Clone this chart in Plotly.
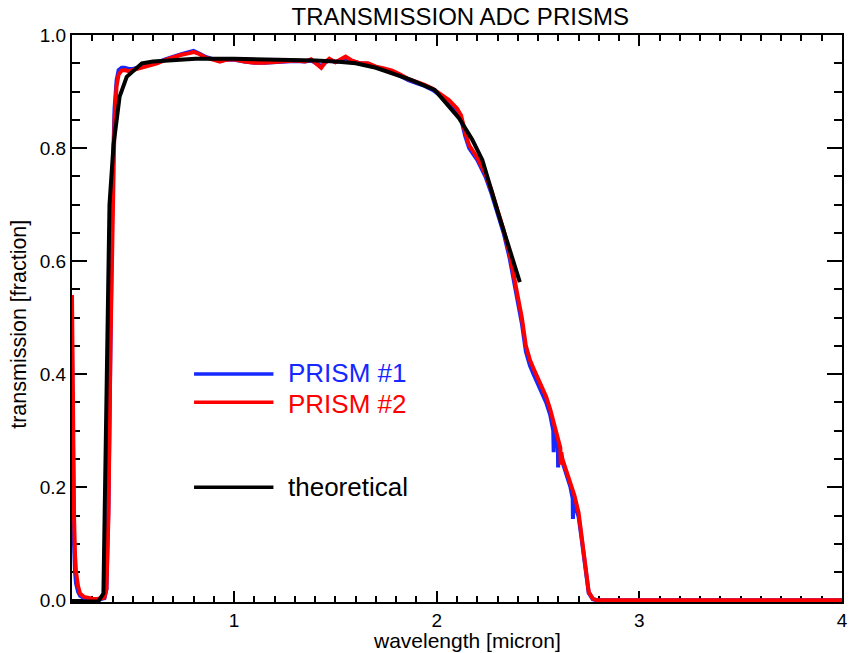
import plotly.graph_objects as go

# ---------------- data ----------------
wl_prism1 = [0.200, 0.205, 0.210, 0.215, 0.220, 0.230, 0.240, 0.260, 0.280, 0.300, 0.320, 0.340,
             0.360, 0.370, 0.380, 0.390, 0.400, 0.410, 0.420, 0.430, 0.445, 0.460, 0.480, 0.500,
             0.520, 0.550, 0.580, 0.620, 0.660, 0.700, 0.740, 0.780, 0.800, 0.830, 0.860, 0.900,
             0.930, 0.960, 1.000, 1.050, 1.100, 1.150, 1.200, 1.250, 1.300, 1.350, 1.380, 1.410,
             1.430, 1.450, 1.470, 1.500, 1.530, 1.550, 1.580, 1.620, 1.660, 1.700, 1.740, 1.780,
             1.820, 1.860, 1.900, 1.940, 1.980, 2.020, 2.060, 2.100, 2.120, 2.140, 2.160, 2.200,
             2.240, 2.270, 2.300, 2.330, 2.360, 2.400, 2.420, 2.440, 2.460, 2.480, 2.500, 2.520,
             2.540, 2.560, 2.575, 2.577, 2.580, 2.598, 2.599, 2.602, 2.620, 2.640, 2.660, 2.671,
             2.672, 2.675, 2.690, 2.700, 2.710, 2.720, 2.730, 2.740, 2.750, 2.770, 2.790, 2.850,
             3.000, 3.250, 3.500, 3.750, 4.000]
tr_prism1 = [0.450, 0.220, 0.100, 0.050, 0.030, 0.015, 0.008, 0.004, 0.002, 0.002, 0.002, 0.002,
             0.004, 0.020, 0.170, 0.500, 0.740, 0.870, 0.920, 0.938, 0.942, 0.942, 0.940, 0.940,
             0.942, 0.945, 0.948, 0.951, 0.957, 0.962, 0.966, 0.970, 0.972, 0.967, 0.961, 0.957,
             0.954, 0.956, 0.956, 0.953, 0.951, 0.951, 0.952, 0.953, 0.954, 0.953, 0.955, 0.949,
             0.945, 0.951, 0.956, 0.952, 0.955, 0.959, 0.954, 0.950, 0.949, 0.943, 0.940, 0.935,
             0.928, 0.920, 0.915, 0.910, 0.903, 0.893, 0.882, 0.865, 0.852, 0.822, 0.800, 0.779,
             0.750, 0.720, 0.685, 0.650, 0.605, 0.530, 0.490, 0.440, 0.415, 0.398, 0.382, 0.368,
             0.350, 0.328, 0.300, 0.262, 0.300, 0.270, 0.235, 0.268, 0.245, 0.222, 0.200, 0.180,
             0.144, 0.175, 0.160, 0.148, 0.122, 0.095, 0.060, 0.032, 0.013, 0.002, 0.000, 0.000,
             0.000, 0.000, 0.000, 0.000, 0.000]

wl_prism2 = [0.200, 0.205, 0.210, 0.215, 0.220, 0.230, 0.240, 0.260, 0.280, 0.300, 0.320, 0.340,
             0.360, 0.370, 0.380, 0.390, 0.400, 0.410, 0.420, 0.430, 0.445, 0.460, 0.480, 0.500,
             0.520, 0.550, 0.580, 0.620, 0.660, 0.700, 0.740, 0.780, 0.800, 0.830, 0.860, 0.900,
             0.930, 0.960, 1.000, 1.050, 1.100, 1.150, 1.200, 1.250, 1.300, 1.350, 1.380, 1.410,
             1.430, 1.450, 1.470, 1.500, 1.530, 1.550, 1.580, 1.620, 1.660, 1.700, 1.740, 1.780,
             1.820, 1.860, 1.900, 1.940, 1.980, 2.020, 2.060, 2.100, 2.120, 2.140, 2.160, 2.200,
             2.240, 2.270, 2.300, 2.330, 2.360, 2.400, 2.420, 2.440, 2.460, 2.480, 2.500, 2.520,
             2.540, 2.560, 2.580, 2.600, 2.610, 2.612, 2.615, 2.620, 2.640, 2.660, 2.680, 2.700,
             2.710, 2.720, 2.730, 2.740, 2.750, 2.770, 2.790, 2.850, 3.000, 3.250, 3.500, 3.750,
             4.000]
tr_prism2 = [0.540, 0.300, 0.150, 0.080, 0.050, 0.025, 0.012, 0.006, 0.004, 0.003, 0.002, 0.003,
             0.005, 0.020, 0.150, 0.450, 0.700, 0.850, 0.910, 0.930, 0.937, 0.938, 0.936, 0.938,
             0.940, 0.944, 0.947, 0.950, 0.956, 0.961, 0.965, 0.968, 0.970, 0.966, 0.960, 0.956,
             0.953, 0.956, 0.957, 0.953, 0.951, 0.951, 0.952, 0.954, 0.955, 0.953, 0.957, 0.948,
             0.942, 0.952, 0.958, 0.952, 0.957, 0.962, 0.955, 0.950, 0.950, 0.944, 0.941, 0.937,
             0.930, 0.922, 0.917, 0.912, 0.905, 0.895, 0.885, 0.870, 0.858, 0.828, 0.805, 0.783,
             0.755, 0.725, 0.690, 0.655, 0.612, 0.540, 0.500, 0.450, 0.425, 0.408, 0.392, 0.378,
             0.360, 0.338, 0.310, 0.278, 0.270, 0.240, 0.262, 0.250, 0.228, 0.207, 0.185, 0.155,
             0.128, 0.100, 0.065, 0.035, 0.015, 0.003, 0.000, 0.000, 0.000, 0.000, 0.000, 0.000,
             0.000]

wl_theory = [0.20, 0.25, 0.30, 0.33, 0.355, 0.385, 0.405, 0.435, 0.47, 0.545, 0.60, 0.70, 0.81,
             1.00, 1.20, 1.40, 1.50, 1.60, 1.70, 1.80, 1.87, 1.99, 2.04, 2.11, 2.175, 2.225, 2.30, 2.41]
tr_theory = [-0.002, -0.002, -0.002, -0.002, 0.012, 0.700, 0.806, 0.891, 0.926, 0.950, 0.953, 0.955,
             0.958, 0.958, 0.957, 0.955, 0.953, 0.950, 0.942, 0.930, 0.921, 0.903, 0.882, 0.853,
             0.815, 0.779, 0.689, 0.563]

x_ticks = [1, 2, 3, 4]
y_ticks = [0.0, 0.2, 0.4, 0.6, 0.8, 1.0]
legend_names = ["PRISM #1", "PRISM #2", "theoretical"]

BLUE = "rgb(20,40,255)"
RED = "rgb(255,0,0)"
BLACK = "rgb(0,0,0)"
FONT = "Liberation Sans, Arial, Helvetica, sans-serif"

fig = go.Figure()
fig.add_trace(go.Scatter(x=wl_prism1, y=tr_prism1, mode="lines",
                         line=dict(color=BLUE, width=4), name=legend_names[0]))
fig.add_trace(go.Scatter(x=wl_prism2, y=tr_prism2, mode="lines",
                         line=dict(color=RED, width=4), name=legend_names[1]))
fig.add_trace(go.Scatter(x=wl_theory, y=tr_theory, mode="lines",
                         line=dict(color=BLACK, width=4), name=legend_names[2]))

# manual legend (lines + text) in paper coordinates
legend_y = [0.402, 0.3525, 0.2025]
legend_cols = [BLUE, RED, BLACK]
legend_shift = [1.5, -1.5, 0]
for name, yy, col, sh in zip(legend_names, legend_y, legend_cols, legend_shift):
    fig.add_shape(type="line", xref="paper", yref="paper", x0=0.1585, x1=0.2616,
                  y0=yy, y1=yy, line=dict(color=col, width=3.5))
    fig.add_annotation(xref="paper", yref="paper", x=0.2784, y=yy, text=name,
                       showarrow=False, xanchor="left", yanchor="middle", yshift=sh,
                       font=dict(family=FONT, size=26, color=col))

# axis titles
fig.add_annotation(xref="paper", yref="paper", x=0.513, y=-0.068, text="wavelength [micron]",
                   showarrow=False, xanchor="center", yanchor="middle",
                   font=dict(family=FONT, size=21, color=BLACK))
fig.add_annotation(xref="paper", yref="paper", x=-0.068, y=0.49, text="transmission [fraction]",
                   showarrow=False, xanchor="center", yanchor="middle", textangle=-90,
                   font=dict(family=FONT, size=21.5, color=BLACK))

fig.update_layout(
    width=857, height=653,
    margin=dict(l=72, r=9, t=35, b=51),
    paper_bgcolor="white", plot_bgcolor="white",
    showlegend=False,
    title=dict(text="TRANSMISSION ADC PRISMS", x=0.537, xanchor="center",
               y=1 - 17 / 653, yanchor="middle", yref="container",
               font=dict(family=FONT, size=24, color=BLACK)),
    font=dict(family=FONT, color=BLACK),
)

fig.update_xaxes(
    range=[0.2, 4.0], tickvals=x_ticks, ticktext=[str(v) for v in x_ticks],
    ticks="inside", ticklen=11, tickwidth=1.5, tickcolor=BLACK,
    minor=dict(dtick=0.1, tick0=0, ticks="inside", ticklen=6, tickwidth=1.5, tickcolor=BLACK,
               showgrid=False),
    showline=True, linecolor=BLACK, linewidth=2, mirror="allticks",
    showgrid=False, zeroline=False, layer="below traces",
    tickfont=dict(family=FONT, size=19, color=BLACK),
)
fig.update_yaxes(
    range=[-0.003, 1.0], tickvals=y_ticks, ticktext=[f"{v:.1f}" for v in y_ticks],
    ticks="inside", ticklen=15, tickwidth=1.5, tickcolor=BLACK,
    minor=dict(dtick=0.05, tick0=0, ticks="inside", ticklen=8, tickwidth=1.5, tickcolor=BLACK,
               showgrid=False),
    showline=True, linecolor=BLACK, linewidth=2, mirror="allticks",
    showgrid=False, zeroline=False, layer="below traces",
    tickfont=dict(family=FONT, size=19, color=BLACK),
)

fig.write_html("out.html")
